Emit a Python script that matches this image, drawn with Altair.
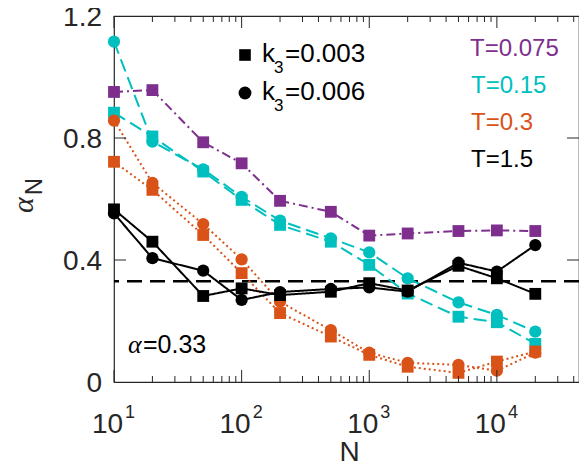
import altair as alt
import pandas as pd

# ---------------- data ----------------
N = [10, 20, 50, 100, 200, 500, 1000, 2000, 5000, 10000, 20000]

purple_sq = [0.951, 0.957, 0.786, 0.717, 0.594, 0.558, 0.480, 0.487, 0.495, 0.497, 0.495]
cyan_sq   = [0.883, 0.805, 0.690, 0.597, 0.515, 0.460, 0.384, 0.290, 0.214, 0.196, 0.125]
cyan_ci   = [1.116, 0.788, 0.697, 0.607, 0.529, 0.471, 0.425, 0.340, 0.261, 0.220, 0.165]
orange_sq = [0.722, 0.630, 0.482, 0.357, 0.226, 0.149, 0.089, 0.050, 0.030, 0.067, 0.100]
orange_ci = [0.857, 0.653, 0.518, 0.402, 0.263, 0.170, 0.096, 0.063, 0.056, 0.037, 0.096]
black_sq  = [0.566, 0.460, 0.282, 0.307, 0.285, 0.296, 0.324, 0.300, 0.381, 0.340, 0.289]
black_ci  = [0.553, 0.406, 0.365, 0.269, 0.295, 0.305, 0.310, 0.296, 0.391, 0.362, 0.449]

T_levels = ["0.075", "0.15", "0.3", "1.5"]
T_colors = ["#7E2F8E", "#00BFBF", "#D95319", "#000000"]
k3_levels = ["0.003", "0.006"]
alpha_ref = [0.33]

x_major = [10, 100, 1000, 10000]
x_exps = ["1", "2", "3", "4"]
x_minor = [20, 30, 40, 50, 60, 70, 80, 90,
           200, 300, 400, 500, 600, 700, 800, 900,
           2000, 3000, 4000, 5000, 6000, 7000, 8000, 9000,
           20000, 30000, 40000]
y_major = [0, 0.4, 0.8, 1.2]
y_labels = ["0", "0.4", "0.8", "1.2"]
y_ticks = [0.4, 0.8]

series = [
    ("0.075", "0.003", purple_sq),
    ("0.15", "0.003", cyan_sq),
    ("0.15", "0.006", cyan_ci),
    ("0.3", "0.003", orange_sq),
    ("0.3", "0.006", orange_ci),
    ("1.5", "0.003", black_sq),
    ("1.5", "0.006", black_ci),
]
rows = []
for i, (t, k, vals) in enumerate(series):
    for n, v in zip(N, vals):
        rows.append({"N": n, "alpha": v, "T": t, "k3": k, "series": i})
df = pd.DataFrame(rows)

# ---------------- layout ----------------
W, H = 465, 366
FONT = "Liberation Sans"
AX = "#262626"

xs = alt.Scale(type="log", domain=[10, 44000])
ys = alt.Scale(domain=[0, 1.2])
X = alt.X("N:Q", scale=xs, axis=None)
Y = alt.Y("alpha:Q", scale=ys, axis=None)

color = alt.Color("T:N", scale=alt.Scale(domain=T_levels, range=T_colors), legend=None)
dash = alt.StrokeDash("T:N", scale=alt.Scale(domain=T_levels,
                      range=[[9, 4, 2, 4], [13, 6], [2, 3], [1, 0]]), legend=None)
shape = alt.Shape("k3:N", scale=alt.Scale(domain=k3_levels, range=["square", "circle"]), legend=None)
size = alt.Size("k3:N", scale=alt.Scale(domain=k3_levels, range=[140, 150]), legend=None)

lines = alt.Chart(df).mark_line(strokeWidth=2).encode(
    x=X, y=Y, color=color, strokeDash=dash, detail="series:N",
)

points = alt.Chart(df).mark_point(filled=True, opacity=1, strokeWidth=0).encode(
    x=X, y=Y, color=color, shape=shape, size=size,
    order=alt.Order("series:Q"),
)

ref = alt.Chart(pd.DataFrame({"alpha": alpha_ref})).mark_rule(
    color="black", strokeWidth=2.5, strokeDash=[15, 8]).encode(y=Y)

dfx_major = pd.DataFrame({"N": x_major, "exp": x_exps})
dfx_minor = pd.DataFrame({"N": x_minor})
dfy = pd.DataFrame({"alpha": y_ticks})
dfy_lab = pd.DataFrame({"alpha": y_major, "lab": y_labels})

def xticks(d, length):
    bot = alt.Chart(d).mark_rule(color=AX, strokeWidth=1).encode(
        x=X, y=alt.value(H), y2=alt.value(H - length))
    top = alt.Chart(d).mark_rule(color=AX, strokeWidth=1).encode(
        x=X, y=alt.value(0), y2=alt.value(length))
    return [bot, top]

yt_left = alt.Chart(dfy).mark_rule(color=AX, strokeWidth=1).encode(
    y=Y, x=alt.value(0), x2=alt.value(12))
yt_right = alt.Chart(dfy).mark_rule(color=AX, strokeWidth=1).encode(
    y=Y, x=alt.value(W - 12), x2=alt.value(W))

xlab_base = alt.Chart(dfx_major).mark_text(
    font=FONT, fontSize=28, color=AX, align="center", baseline="alphabetic", dx=-6.5).encode(
    x=X, y=alt.value(416.7), text=alt.value("10"))
xlab_exp = alt.Chart(dfx_major).mark_text(
    font=FONT, fontSize=18, color=AX, align="left", baseline="alphabetic", dx=11).encode(
    x=X, y=alt.value(401.7), text="exp:N")
ylab = alt.Chart(dfy_lab).mark_text(
    font=FONT, fontSize=28, color=AX, align="right", baseline="middle", dy=2).encode(
    y=Y, x=alt.value(-12), text="lab:N")

one = pd.DataFrame({"a": [0]})

def label(txt, x, y, size, col="black", align="left", baseline="alphabetic",
          font=FONT, style="normal", angle=0):
    return alt.Chart(one).mark_text(
        font=font, fontSize=size, color=col, align=align, baseline=baseline,
        fontStyle=style, angle=angle).encode(
        x=alt.value(x), y=alt.value(y), text=alt.value(txt))

def sym(shp, y, s):
    return alt.Chart(one).mark_point(
        filled=True, opacity=1, strokeWidth=0, color="black", shape=shp, size=s).encode(
        x=alt.value(131), y=alt.value(y))

ann = [
    label("T=0.075", 356, 33, 24, T_colors[0], baseline="middle"),
    label("T=0.15", 357, 70, 24, T_colors[1], baseline="middle"),
    label("T=0.3", 357, 107, 24, T_colors[2], baseline="middle"),
    label("T=1.5", 357, 144, 24, T_colors[3], baseline="middle"),
    sym("square", 39, 135), sym("circle", 77, 165),
    label("k", 148, 46, 26), label("3", 160, 57, 17), label("=0.003", 171, 46, 26),
    label("k", 148, 84, 26), label("3", 160, 95, 17), label("=0.006", 171, 84, 26),
    label("α", 14, 337, 26, font="Liberation Serif", style="italic"),
    label("=0.33", 29, 337, 25),
    label("N", W / 2 + 3, 445, 28, AX, align="center"),
    label("α", -90, 189, 30, AX, align="center", baseline="middle",
          font="Liberation Serif", style="italic", angle=270),
    label("N", -79.5, 170.5, 24, AX, align="center", baseline="middle", angle=270),
]

layers = [ref, lines, points] + xticks(dfx_major, 12) + xticks(dfx_minor, 6) + \
         [yt_left, yt_right, xlab_base, xlab_exp, ylab] + ann

chart = alt.layer(*layers).properties(
    width=W, height=H,
    padding={"left": 106, "top": 8, "right": 0, "bottom": 81},
    autosize=alt.AutoSizeParams(type="none"),
).configure_view(stroke=AX, strokeWidth=1.2)

chart.save("out.html", embed_options={"renderer": "svg", "actions": False})
